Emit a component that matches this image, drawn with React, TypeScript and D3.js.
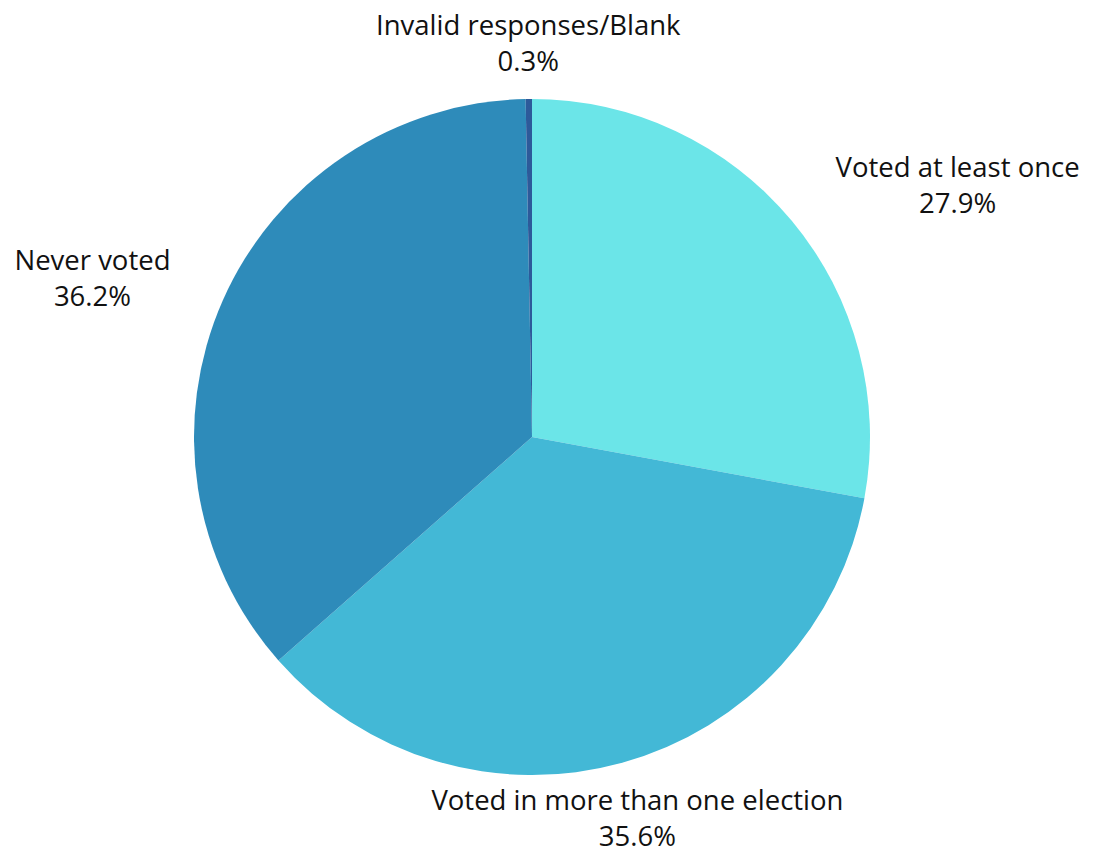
import React from "react";
import * as d3 from "d3";

const categories = ["Voted at least once", "Voted in more than one election", "Never voted", "Invalid responses/Blank"];
const values = [27.9, 35.6, 36.2, 0.3];
const colors = ["#6BE5E8", "#43B8D6", "#2E8BBA", "#2D5A9A"];

const W = 1094;
const H = 848;
const CX = 532;
const CY = 437;
const R = 338;
const LABEL_R = 395;
const FONT_SIZE = 27.5;
const FONT_FAMILY = "'Open Sans', sans-serif";
const LINE_H = 36;

function measure(text: string): number {
  const c = document.createElement("canvas").getContext("2d");
  if (!c) return text.length * FONT_SIZE * 0.5;
  c.font = `${FONT_SIZE}px 'Open Sans'`;
  return c.measureText(text).width;
}

export default function App() {
  const data = categories.map((c, i) => ({ name: c, value: values[i], color: colors[i] }));
  const pie = d3.pie<any>().value((d) => d.value).sort(null).startAngle(0).endAngle(2 * Math.PI);
  const arcs = pie(data);
  const arc = d3.arc<any>().innerRadius(0).outerRadius(R);
  const labelArc = d3.arc<any>().innerRadius(LABEL_R).outerRadius(LABEL_R);

  return (
    <svg width={W} height={H} style={{ position: "absolute", left: 0, top: 0, background: "#fff" }}>
      <g transform={`translate(${CX},${CY})`}>
        {arcs.map((a, i) => (
          <path key={i} d={arc(a) || ""} fill={a.data.color} />
        ))}
        {arcs.map((a, i) => {
          const [x, y] = labelArc.centroid(a);
          const mid = (a.startAngle + a.endAngle) / 2;
          const s = Math.sin(mid);
          const w = measure(a.data.name);
          const cx = s > 0.5 ? x + w / 2 : s < -0.5 ? x - w / 2 : x;
          return (
            <text
              key={"l" + i}
              textAnchor="middle"
              fontFamily={FONT_FAMILY}
              fontSize={FONT_SIZE}
              fill="#111"
            >
              <tspan x={cx} y={y - LINE_H / 2} dominantBaseline="central">{a.data.name}</tspan>
              <tspan x={cx} y={y + LINE_H / 2} dominantBaseline="central">{d3.format(".1f")(a.data.value) + "%"}</tspan>
            </text>
          );
        })}
      </g>
    </svg>
  );
}
